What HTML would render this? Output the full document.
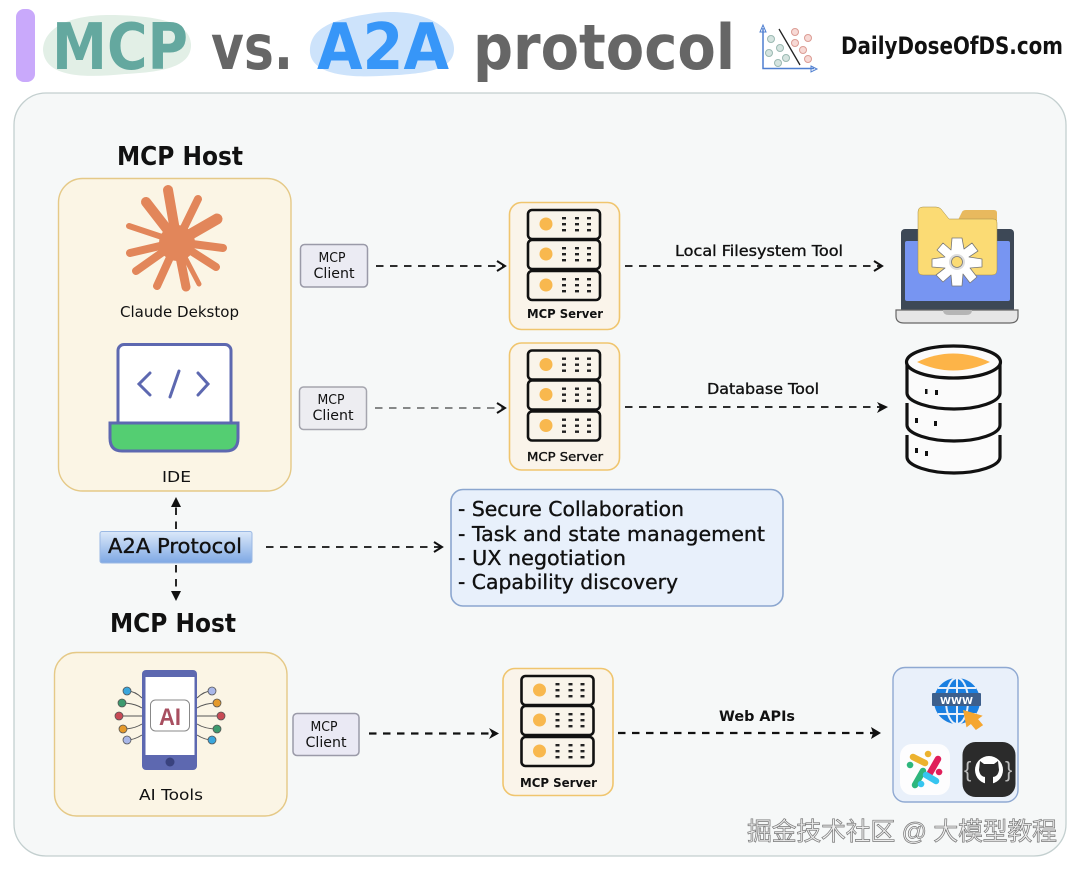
<!DOCTYPE html>
<html><head><meta charset="utf-8"><style>
html,body{margin:0;padding:0;background:#fff;width:1080px;height:869px;overflow:hidden}
svg{display:block}
text{font-family:"DejaVu Sans","Liberation Sans","Noto Sans CJK SC",sans-serif;fill:#111}
.b{font-weight:bold}
.s{stroke:#111;stroke-width:0.35}
.arr{stroke:#111;stroke-width:1.8;stroke-dasharray:7.5 6.5;fill:none}
.hd{stroke:#111;stroke-width:2;fill:none}
.unit{fill:#f9f4ea;stroke:#111;stroke-width:2.6}
.d{fill:#222}
</style></head><body>
<svg width="1080" height="869" viewBox="0 0 1080 869" xmlns="http://www.w3.org/2000/svg">
<defs>
<linearGradient id="g" x1="0" y1="0" x2="0" y2="1"><stop offset="0" stop-color="#dbe8f9"/><stop offset="1" stop-color="#7ea8e4"/></linearGradient>
<g id="srv">
  <rect x="0.5" y="0.5" width="110" height="127" rx="12" fill="#faf4ea" stroke="#f0c56e" stroke-width="1.6"/>
  <g id="u"><rect class="unit" x="19" y="8" width="72" height="29" rx="4"/><circle cx="37" cy="22" r="6.500" fill="#f8b84e"/>
    <g class="d"><rect x="53" y="15" width="4" height="2.4"/><rect x="66" y="15" width="4" height="2.4"/><rect x="78" y="15" width="4" height="2.4"/><rect x="53" y="21" width="4" height="2.4"/><rect x="66" y="21" width="4" height="2.4"/><rect x="78" y="21" width="4" height="2.4"/><rect x="53" y="27" width="4" height="2.4"/><rect x="66" y="27" width="4" height="2.4"/><rect x="78" y="27" width="4" height="2.4"/></g></g>
  <use href="#u" y="30"/><use href="#u" y="61"/>
</g>
</defs>

<!-- header -->
<rect x="16" y="9" width="19" height="73" rx="8" fill="#c9a9fb"/>
<path d="M43 50C44 25 75 14 115 15C150 16 190 20 191 44C192 68 160 72 125 74C85 78 45 78 43 50Z" fill="#e2efe6"/>
<path d="M310 48C312 25 340 18 375 13C415 8 452 22 454 48C455 72 420 74 380 76C340 78 308 72 310 48Z" fill="#cde3fb"/>
<text class="b" x="52" y="69" font-size="64" textLength="136" lengthAdjust="spacingAndGlyphs" style="fill:#64a89f">MCP</text>
<text class="b" x="211" y="69" font-size="62" textLength="82" lengthAdjust="spacingAndGlyphs" style="fill:#666">vs.</text>
<text class="b" x="317" y="69" font-size="64" textLength="132" lengthAdjust="spacingAndGlyphs" style="fill:#3796f8">A2A</text>
<text class="b" x="473" y="69" font-size="62" textLength="262" lengthAdjust="spacingAndGlyphs" style="fill:#666">protocol</text>
<!-- logo -->
<g fill="none" stroke-width="1">
<path d="M763 28V68.500H814" stroke="#4f7fd0" stroke-width="1.500"/>
<path d="M760 32L763 25L766 32Z M811 66L817 69L811 72Z" stroke="#4f7fd0"/>
<path d="M779 29L800 65" stroke="#222" stroke-width="1.300"/>
<g fill="#d5e4e0" stroke="#9bb9b2"><circle cx="771" cy="39" r="3.500"/><circle cx="780" cy="48" r="3.500"/><circle cx="769" cy="53" r="3.500"/><circle cx="786" cy="58" r="3.500"/><circle cx="778" cy="63" r="3.500"/></g>
<g fill="#f7d9d5" stroke="#dc9c94"><circle cx="795" cy="32" r="3.500"/><circle cx="808" cy="38" r="3.500"/><circle cx="795" cy="43" r="3.500"/><circle cx="803" cy="50" r="3.500"/><circle cx="808" cy="59" r="3.500"/></g>
</g>
<text class="b" x="841" y="54" font-size="24" textLength="222" lengthAdjust="spacingAndGlyphs">DailyDoseOfDS.com</text>

<!-- panel -->
<rect x="14" y="93" width="1052" height="763" rx="32" fill="#f6f8f8" stroke="#c3cfcf" stroke-width="1.300"/>

<!-- host 1 -->
<text class="b" x="117" y="165" font-size="26" textLength="126" lengthAdjust="spacingAndGlyphs">MCP Host</text>
<rect x="58.500" y="178.500" width="232.500" height="312.500" rx="24" fill="#fbf5e5" stroke="#e5c987" stroke-width="1.400"/>
<g stroke="#e2865a" stroke-linecap="round" fill="none">
<g stroke-width="8"><path d="M177 242L168 190" stroke-width="10"/><path d="M177 242L198 199"/><path d="M177 242L217 219" stroke-width="11"/><path d="M177 242L223 248"/><path d="M177 242L216 267"/><path d="M177 242L199 284" stroke-width="5"/><path d="M177 242L186 287" stroke-width="9"/><path d="M177 242L157 286"/><path d="M177 242L136 271"/><path d="M177 242L130 253"/><path d="M177 242L129 226" stroke-width="6"/><path d="M177 242L146 202" stroke-width="10"/></g>
</g>
<circle cx="177" cy="243" r="18" fill="#e2865a"/>
<text x="120" y="317" font-size="15" textLength="119" lengthAdjust="spacingAndGlyphs">Claude Dekstop</text>

<!-- IDE icon -->
<rect x="118" y="344.500" width="113" height="85" rx="6" fill="#fff" stroke="#5d68b0" stroke-width="3"/>
<path d="M110 423H238V438Q238 451 226 451H122Q110 451 110 438Z" fill="#54ce72" stroke="#5d68b0" stroke-width="3"/>
<path d="M150 373L139 384L150 395M198 373L208 384L198 395M179 371L170 397" fill="none" stroke="#5d68b0" stroke-width="3" stroke-linecap="round"/>
<text x="162" y="482" font-size="15" textLength="29" lengthAdjust="spacingAndGlyphs">IDE</text>

<!-- clients row 1 -->
<rect x="300.500" y="244.500" width="67" height="42.500" rx="4" fill="#ebebf3" stroke="#9a9aa8" stroke-width="1.500"/>
<text x="332" y="262" font-size="13" text-anchor="middle" textLength="27" lengthAdjust="spacingAndGlyphs">MCP</text>
<text x="334" y="278" font-size="14" text-anchor="middle" textLength="41" lengthAdjust="spacingAndGlyphs">Client</text>
<path class="arr" d="M376 266H503"/><path class="hd" d="M497 261L505 266L497 271"/>
<use href="#srv" x="509" y="202"/>
<text class="b" x="527" y="318" font-size="12" textLength="76" lengthAdjust="spacingAndGlyphs">MCP Server</text>
<text class="s" x="675" y="256" font-size="15" textLength="168" lengthAdjust="spacingAndGlyphs">Local Filesystem Tool</text>
<path class="arr" d="M625 266H880"/><path class="hd" d="M874 261L882 266L874 271"/>

<!-- laptop -->
<rect x="901" y="229" width="113" height="84" rx="4" fill="#3d4856"/>
<rect x="905" y="241" width="105" height="60" rx="2" fill="#7795f2"/>
<path d="M896 310H1018V316Q1018 323 1010 323H904Q896 323 896 316Z" fill="#e6e6e6" stroke="#666" stroke-width="1.200"/>
<path d="M943 310H972Q972 315 966 315H949Q943 315 943 310Z" fill="#b5b5b5"/>
<path d="M957 222L962 212Q963 210 966 210H994Q997 210 997 213V224H957Z" fill="#e8b95e"/>
<path d="M918 212Q918 207 923 207H936Q939 207 941 209L949 219H993Q997 219 997 223V270Q997 275 992 275H923Q918 275 918 270Z" fill="#fbdb74" stroke="#a08a4a" stroke-width="0.500"/>
<g transform="translate(957 262)" fill="#fff" stroke="#777" stroke-width="0.800" stroke-linejoin="round">
<path d="M-5 -24H5L7 -13L15 -19L21 -11L12 -5L25 -3V5L13 6L20 15L13 21L6 12L5 24H-5L-6 13L-14 20L-21 13L-12 6L-25 5V-3L-12 -5L-20 -12L-14 -19L-6 -12Z"/>
<circle r="8" fill="#ddd" stroke="none"/><circle r="5.500" fill="#fbdb74" stroke="#777"/>
</g>

<!-- row 2 -->
<rect x="299.500" y="387" width="67" height="42.500" rx="4" fill="#ededf1" stroke="#a5a5ae" stroke-width="1.500"/>
<text x="331" y="404" font-size="13" text-anchor="middle" textLength="27" lengthAdjust="spacingAndGlyphs">MCP</text>
<text x="333" y="420" font-size="14" text-anchor="middle" textLength="41" lengthAdjust="spacingAndGlyphs">Client</text>
<path class="arr" style="stroke:#444;stroke-width:1.300" d="M375 408H503"/><path class="hd" d="M497 403L505 408L497 413"/>
<use href="#srv" x="509" y="342.500"/>
<text class="s" x="527" y="461" font-size="12" textLength="76" lengthAdjust="spacingAndGlyphs">MCP Server</text>
<text class="s" x="707" y="394" font-size="15" textLength="112" lengthAdjust="spacingAndGlyphs">Database Tool</text>
<path class="arr" d="M625 407H884"/><path d="M877 402L888 407L877 413L880 407Z" fill="#111"/>

<!-- database -->
<g fill="#fbfbfb" stroke="#111" stroke-width="3.200">
<path d="M907 435V457C907 466 930 473 954 473C978 473 1000 466 1000 457V435"/>
<path d="M907 403V425C907 434 930 441 954 441C978 441 1000 434 1000 425V403" />
<path d="M907 361V393C907 402 930 409 954 409C978 409 1000 402 1000 393V361"/>
<ellipse cx="953.500" cy="362" rx="47" ry="16"/>
</g>
<path d="M917 362Q953 345 990 362Q953 379 917 362Z" fill="#fdb448"/>
<g fill="#111"><rect x="925" y="389" width="2.500" height="5"/><rect x="935" y="390" width="3" height="5"/><rect x="915" y="418" width="3" height="5"/><rect x="934" y="421" width="3" height="5"/><rect x="915" y="448" width="3" height="5"/><rect x="925" y="451" width="3" height="5"/></g>

<!-- A2A -->
<rect x="100" y="531.500" width="152" height="31.500" rx="2" fill="url(#g)" stroke="#9bb9e4"/>
<text class="s" x="108" y="553" font-size="20" textLength="134" lengthAdjust="spacingAndGlyphs">A2A Protocol</text>
<path class="arr" d="M176 529V505"/><path d="M171 507L176 497L181 507Z" fill="#111"/>
<path class="arr" d="M176 565V592"/><path d="M171 591L176 601L181 591Z" fill="#111"/>
<path class="arr" d="M266 547H440"/><path class="hd" d="M434 542L442 547L434 552"/>

<rect x="451" y="489.500" width="332" height="116.500" rx="12" fill="#e8f0fb" stroke="#8ba6cf" stroke-width="1.600"/>
<g font-size="20" class="s">
<text class="s" x="458" y="516" textLength="226" lengthAdjust="spacingAndGlyphs">- Secure Collaboration</text>
<text class="s" x="458" y="541" textLength="307" lengthAdjust="spacingAndGlyphs">- Task and state management</text>
<text class="s" x="458" y="565" textLength="168" lengthAdjust="spacingAndGlyphs">- UX negotiation</text>
<text class="s" x="458" y="589" textLength="220" lengthAdjust="spacingAndGlyphs">- Capability discovery</text>
</g>

<!-- host 2 -->
<text class="b" x="110" y="632" font-size="26" textLength="126" lengthAdjust="spacingAndGlyphs">MCP Host</text>
<rect x="54.500" y="652.500" width="232.500" height="163.500" rx="22" fill="#fbf5e5" stroke="#e5c987" stroke-width="1.400"/>
<g fill="none" stroke="#555" stroke-width="1"><path d="M127 691Q135 691 142 698M122 703Q134 703 142 708M119 716H142M123 729Q134 729 142 724M127 740Q134 740 142 735M212 691Q204 691 197 698M217 703Q205 703 197 708M221 716H197M217 729Q205 729 197 724M212 740Q205 740 197 735"/></g>
<g stroke="#555" stroke-width="0.800">
<circle cx="127" cy="691" r="4" fill="#3aa6dc"/><circle cx="122" cy="703" r="4" fill="#3d9a6e"/><circle cx="119" cy="716" r="4" fill="#c84a55"/><circle cx="123" cy="729" r="4" fill="#e59a2b"/><circle cx="127" cy="740" r="4" fill="#a9b7e8"/>
<circle cx="212" cy="691" r="4" fill="#a9b7e8"/><circle cx="217" cy="703" r="4" fill="#e59a2b"/><circle cx="221" cy="716" r="4" fill="#c84a55"/><circle cx="217" cy="729" r="4" fill="#3d9a6e"/><circle cx="212" cy="740" r="4" fill="#3aa6dc"/></g>
<rect x="142" y="670" width="55" height="100" rx="4" fill="#5d68b0"/>
<rect x="145.500" y="677" width="49" height="78" fill="#fff"/>
<circle cx="170" cy="762" r="4.500" fill="#39427e"/>
<rect x="150.500" y="700" width="39" height="31" rx="5" fill="#fff" stroke="#888" stroke-width="1"/>
<text class="b" x="159" y="725" font-size="24" textLength="22" lengthAdjust="spacingAndGlyphs" style="fill:#a84f60;font-family:'Liberation Sans',sans-serif">AI</text>
<text x="139" y="800" font-size="15" textLength="64" lengthAdjust="spacingAndGlyphs">AI Tools</text>

<rect x="293" y="713.500" width="66" height="42" rx="4" fill="#eae9f4" stroke="#9a9aa8" stroke-width="1.500"/>
<text x="324" y="731" font-size="13" text-anchor="middle" textLength="27" lengthAdjust="spacingAndGlyphs">MCP</text>
<text x="326" y="747" font-size="14" text-anchor="middle" textLength="41" lengthAdjust="spacingAndGlyphs">Client</text>
<path class="arr" style="stroke-width:2.200" d="M369 733.500H496"/><path d="M489 728L499 733.500L489 739L492 733.500Z" fill="#111"/>
<use href="#srv" x="502.500" y="668"/>
<text class="b" x="520" y="787" font-size="12" textLength="77" lengthAdjust="spacingAndGlyphs">MCP Server</text>
<text class="b" x="719" y="721" font-size="14" textLength="76" lengthAdjust="spacingAndGlyphs">Web APIs</text>
<path class="arr" style="stroke-width:2.200" d="M618 733H876"/><path d="M871 727L881 733L871 739L873 733Z" fill="#111"/>

<!-- services -->
<rect x="893" y="667.500" width="125" height="134.500" rx="12" fill="#e9f0fa" stroke="#8fa9d2" stroke-width="1.400"/>
<circle cx="957" cy="701" r="23" fill="#1a7fe0"/>
<g fill="none" stroke="#e9f0fa" stroke-width="2"><ellipse cx="957" cy="701" rx="11" ry="23"/><path d="M957 678V724M938 688H976M938 714H976"/></g>
<rect x="932" y="693" width="49" height="13" rx="1" fill="#3d5f8c"/>
<text class="b" x="940" y="704" font-size="10" textLength="33" lengthAdjust="spacingAndGlyphs" style="fill:#fff">WWW</text>
<path d="M964 711L981 716L977 719L982 725L976 729L971 723L967 726Z" fill="#f5a630" stroke="#f5a630" stroke-width="1.500"/>
<rect x="900" y="744" width="50" height="51" rx="12" fill="#fdfdfe"/>
<g stroke-width="6.500" stroke-linecap="round" fill="none">
<path d="M913 757L925 763" stroke="#ecb22e"/><path d="M928 754L928.100 754" stroke="#ecb22e"/>
<path d="M938 759L930 773" stroke="#e01e5a"/><path d="M939 772L939.100 772" stroke="#e01e5a"/>
<path d="M910 765L910.100 765" stroke="#2eb67d"/><path d="M923 771L915 785" stroke="#2eb67d"/>
<path d="M926 775L936 781" stroke="#36c5f0"/><path d="M921 784L921.100 784" stroke="#36c5f0"/>
</g>
<rect x="962.500" y="742" width="53" height="55" rx="13" fill="#2b2b2b"/>
<text x="964" y="777" font-size="22" style="fill:#bbb;font-family:'Liberation Sans',sans-serif">{</text>
<text x="1005" y="777" font-size="22" style="fill:#bbb;font-family:'Liberation Sans',sans-serif">}</text>
<circle cx="989" cy="770" r="14" fill="#fff"/>
<path d="M980 761L984 764H994L998 761L999 770Q998 777 992 777H986Q980 777 979 770Z" fill="#2b2b2b"/>
<path d="M985 776H993V784H985Z" fill="#2b2b2b"/>

<!-- watermark -->
<text x="747" y="840" font-size="25" textLength="310" style="font-family:'Liberation Sans','Noto Sans CJK SC',sans-serif;fill:#eee;stroke:#777;stroke-width:0.700">掘金技术社区 @ 大模型教程</text>
</svg>
</body></html>
